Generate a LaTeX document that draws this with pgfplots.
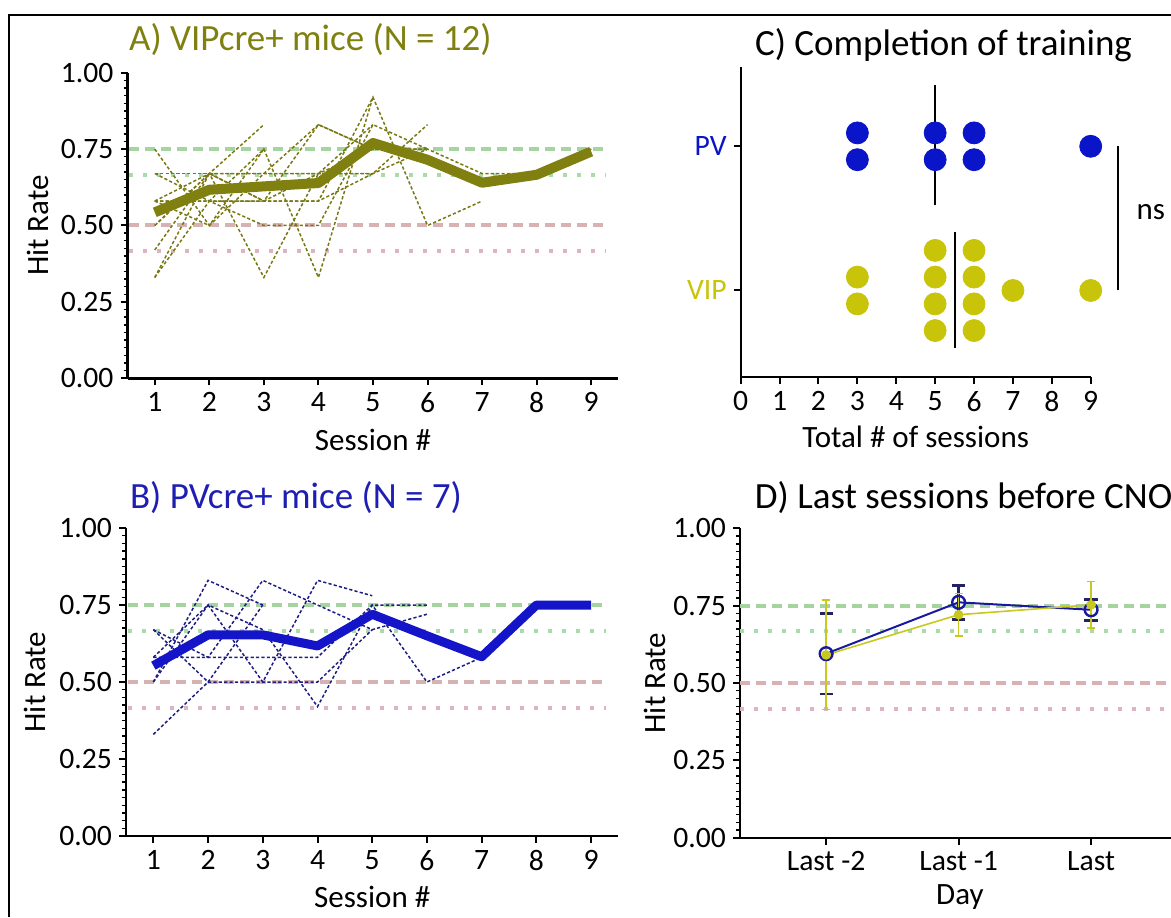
\documentclass[border=0pt]{standalone}
\usepackage{pgfplots}
\pgfplotsset{compat=1.18}
\usepackage{fontspec}
\setmainfont{Carlito}
\definecolor{olv}{RGB}{128,128,16}
\definecolor{olvthin}{RGB}{120,120,20}
\definecolor{pvb}{RGB}{20,20,200}
\definecolor{pvtitle}{RGB}{30,30,180}
\definecolor{pvthin}{RGB}{30,30,130}
\definecolor{dotpv}{RGB}{10,20,200}
\definecolor{dotvip}{RGB}{200,196,10}
\definecolor{gdash}{RGB}{165,212,160}
\definecolor{pdash}{RGB}{215,178,178}
\definecolor{gdot}{RGB}{170,220,170}
\definecolor{pdot}{RGB}{222,180,192}
\definecolor{dblue}{RGB}{25,25,160}
\definecolor{dnavy}{RGB}{35,35,100}
\definecolor{dyel}{RGB}{200,200,30}
\pgfplotsset{
 panel/.style={scale only axis, axis x line*=bottom, axis y line*=left,
   axis line style={line width=1.2pt}, tick align=outside,
   major tick length=3.5pt, minor tick length=2pt,
   every tick/.style={black, line width=1pt},
   minor tick style={line width=0.7pt},
   tick label style={font=\fontsize{14.8}{16}\selectfont},
   label style={font=\fontsize{15.5}{18}\selectfont},
   title style={font=\fontsize{18.5}{22}\selectfont, anchor=west, yshift=-6pt},
   clip=false},
 hitaxis/.style={ymin=0, ymax=1, ytick={0,0.25,0.5,0.75,1},
   yticklabels={0.00,0.25,0.50,0.75,1.00}, minor y tick num=9, ylabel={Hit Rate}},
 gd/.style={gdash, line width=2pt, dash pattern=on 5pt off 3pt},
 pd/.style={pdash, line width=2pt, dash pattern=on 5pt off 3pt},
 gt/.style={gdot, line width=2pt, dash pattern=on 2pt off 5pt},
 pt/.style={pdot, line width=2pt, dash pattern=on 2pt off 5pt},
 vth/.style={olvthin, line width=0.75pt, dash pattern=on 1.6pt off 1.1pt},
 pth/.style={pvthin, line width=0.75pt, dash pattern=on 1.6pt off 1.1pt},
}
\begin{document}
\begin{tikzpicture}
\useasboundingbox (0,0) rectangle (585.5pt,458.5pt);
\draw[line width=1pt] (4.5pt,0) -- (4.5pt,451pt) -- (586pt,451pt);

% ---------------- Panel A
\begin{axis}[panel, hitaxis, at={(63.75pt,269.35pt)}, anchor=south west,
  width=245.5pt, height=152.8pt, xmin=0.5, xmax=9.5,
  xtick={1,2,3,4,5,6,7,8,9}, xticklabels={1,2,3,4,5,6,7,8,9},
  xlabel={Session \#},
  xlabel style={at={(axis description cs:0.5,-0.202)}, anchor=center},
  ylabel style={at={(axis description cs:-0.182,0.5)}, anchor=center},
  title={\color{olv}A) VIPcre+ mice (N = 12)},
  title style={at={(axis description cs:-0.011,1.107)}}]
\addplot[gd] coordinates {(0.53,0.75)(9.27,0.75)};
\addplot[gt] coordinates {(0.53,0.6667)(9.27,0.6667)};
\addplot[pd] coordinates {(0.53,0.5)(9.27,0.5)};
\addplot[pt] coordinates {(0.53,0.4167)(9.27,0.4167)};
\addplot[vth] coordinates {(1,0.75)(2,0.5)(3,0.75)};
\addplot[vth] coordinates {(1,0.58)(2,0.67)(3,0.83)};
\addplot[vth] coordinates {(1,0.67)(2,0.67)(3,0.67)(4,0.67)(5,0.67)};
\addplot[vth] coordinates {(1,0.33)(2,0.58)(3,0.58)(4,0.83)(5,0.75)};
\addplot[vth] coordinates {(1,0.42)(2,0.67)(3,0.33)(4,0.67)(5,0.83)};
\addplot[vth] coordinates {(1,0.58)(2,0.58)(3,0.75)(4,0.33)(5,0.92)};
\addplot[vth] coordinates {(1,0.58)(2,0.5)(3,0.67)(4,0.83)(5,0.75)(6,0.75)};
\addplot[vth] coordinates {(1,0.5)(2,0.67)(3,0.58)(4,0.58)(5,0.67)(6,0.83)};
\addplot[vth] coordinates {(1,0.67)(2,0.58)(3,0.5)(4,0.5)(5,0.83)(6,0.75)};
\addplot[vth] coordinates {(1,0.33)(2,0.67)(3,0.58)(4,0.67)(5,0.75)(6,0.75)};
\addplot[vth] coordinates {(1,0.58)(2,0.58)(3,0.58)(4,0.58)(5,0.92)(6,0.5)(7,0.58)};
\addplot[vth] coordinates {(1,0.5)(2,0.67)(3,0.67)(4,0.67)(5,0.67)(6,0.75)(7,0.67)(8,0.67)(9,0.75)};
\addplot[olv, line width=5pt, line join=round] coordinates {(1,0.543)(2,0.617)(3,0.628)(4,0.639)(5,0.77)(6,0.715)(7,0.64)(8,0.666)(9,0.742)};
\end{axis}

% ---------------- Panel B
\begin{axis}[panel, hitaxis, at={(63pt,40.5pt)}, anchor=south west,
  width=246.25pt, height=154pt, xmin=0.5, xmax=9.5,
  xtick={1,2,3,4,5,6,7,8,9}, xticklabels={1,2,3,4,5,6,7,8,9},
  xlabel={Session \#},
  xlabel style={at={(axis description cs:0.5,-0.198)}, anchor=center},
  ylabel style={at={(axis description cs:-0.185,0.5)}, anchor=center},
  title={\color{pvtitle}B) PVcre+ mice (N = 7)},
  title style={at={(axis description cs:-0.006,1.10)}}]
\addplot[gd] coordinates {(0.53,0.75)(9.27,0.75)};
\addplot[gt] coordinates {(0.53,0.6667)(9.27,0.6667)};
\addplot[pd] coordinates {(0.53,0.5)(9.27,0.5)};
\addplot[pt] coordinates {(0.53,0.4167)(9.27,0.4167)};
\addplot[pth] coordinates {(1,0.5)(2,0.83)(3,0.75)};
\addplot[pth] coordinates {(1,0.33)(2,0.5)(3,0.75)};
\addplot[pth] coordinates {(1,0.58)(2,0.75)(3,0.5)(4,0.83)(5,0.78)};
\addplot[pth] coordinates {(1,0.67)(2,0.5)(3,0.5)(4,0.5)(5,0.67)};
\addplot[pth] coordinates {(1,0.5)(2,0.75)(3,0.67)(4,0.42)(5,0.75)(6,0.75)};
\addplot[pth] coordinates {(1,0.67)(2,0.58)(3,0.83)(4,0.75)(5,0.67)(6,0.72)};
\addplot[pth] coordinates {(1,0.58)(2,0.58)(3,0.58)(4,0.58)(5,0.75)(6,0.5)(7,0.58)(8,0.75)(9,0.75)};
\addplot[pvb, line width=4.5pt, line join=round] coordinates {(1,0.553)(2,0.653)(3,0.653)(4,0.617)(5,0.72)(6,0.65)(7,0.582)(8,0.75)(9,0.75)};
\end{axis}

% ---------------- Panel C
\begin{axis}[panel, at={(370.35pt,270pt)}, anchor=south west,
  width=175pt, height=155pt, xmin=0, xmax=9, ymin=-0.6, ymax=1.55,
  xtick={0,1,2,3,4,5,6,7,8,9}, xticklabels={0,1,2,3,4,5,6,7,8,9},
  ytick={0,1}, yticklabels={\textcolor{dotvip}{VIP},\textcolor{dotpv}{PV}},
  xlabel={Total \# of sessions},
  xlabel style={at={(axis description cs:0.5,-0.194)}, anchor=center},
  title={C) Completion of training},
  title style={at={(axis description cs:0.021,1.071)}}]
\addplot[only marks, mark=*, mark size=5.5pt, color=dotpv] coordinates {
(3,1.093)(3,0.907)(5,1.093)(5,0.907)(6,1.093)(6,0.907)(9,1)};
\addplot[only marks, mark=*, mark size=5.5pt, color=dotvip] coordinates {
(3,0.093)(3,-0.093)(5,0.278)(5,0.093)(5,-0.093)(5,-0.278)
(6,0.278)(6,0.093)(6,-0.093)(6,-0.278)(7,0)(9,0)};
\addplot[black, line width=1pt] coordinates {(5,0.59)(5,1.425)};
\addplot[black, line width=1pt] coordinates {(5.5,-0.40)(5.5,0.408)};
\addplot[black, line width=1pt] coordinates {(9.69,0)(9.69,1)};
\node[font=\fontsize{15.5}{18}\selectfont, anchor=west] at (axis cs:10.0,0.546) {ns};
\end{axis}

% ---------------- Panel D
\begin{axis}[panel, hitaxis, at={(370pt,39.65pt)}, anchor=south west,
  width=218.6pt, height=154.65pt, xmin=-0.65, xmax=2.65,
  xtick={0,1,2}, xticklabels={Last -2,Last -1,Last},
  xlabel={Day},
  xlabel style={at={(axis description cs:0.503,-0.192)}, anchor=center},
  ylabel style={at={(axis description cs:-0.195,0.5)}, anchor=center},
  title={D) Last sessions before CNO},
  title style={at={(axis description cs:0.018,1.10)}}]
\addplot[gd] coordinates {(-0.65,0.75)(2.65,0.75)};
\addplot[gt] coordinates {(-0.65,0.6667)(2.65,0.6667)};
\addplot[pd] coordinates {(-0.65,0.5)(2.65,0.5)};
\addplot[pt] coordinates {(-0.65,0.4167)(2.65,0.4167)};
\addplot[dblue, line width=1pt, mark=o, mark size=3.2pt, mark options={line width=1.2pt},
  error bars/.cd, y dir=both, y explicit,
  error bar style={dnavy, line width=1.3pt},
  error mark options={rotate=90, mark size=3.3pt, dnavy, line width=1.3pt}]
  coordinates {(0,0.595) +- (0,0.13) (1,0.761) +- (0,0.055) (2,0.737) +- (0,0.034)};
\addplot[dyel, line width=0.8pt, mark=*, mark size=2pt,
  error bars/.cd, y dir=both, y explicit,
  error bar style={dyel, line width=0.8pt},
  error mark options={rotate=90, mark size=2pt, dyel, line width=0.8pt}]
  coordinates {(0,0.591) +- (0,0.177) (1,0.721) +- (0,0.068) (2,0.753) +- (0,0.075)};
\end{axis}
\end{tikzpicture}
\end{document}
